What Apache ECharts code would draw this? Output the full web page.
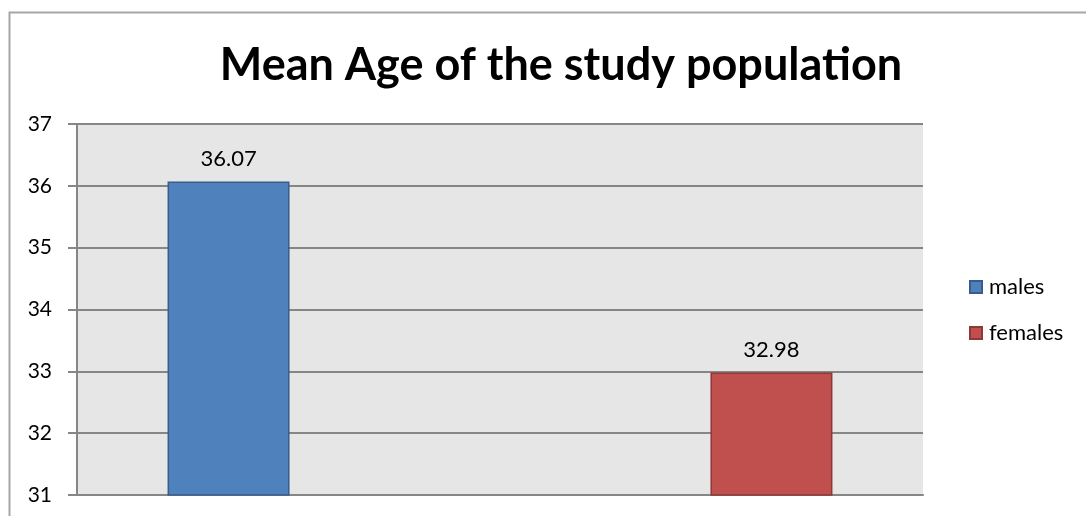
<!DOCTYPE html>
<html>
<head>
<meta charset="utf-8">
<style>
  html, body { margin: 0; padding: 0; background: #ffffff; }
  #chart { width: 1086px; height: 516px; }
</style>
<script src="https://cdn.jsdelivr.net/npm/echarts@6/dist/echarts.min.js"></script>
</head>
<body>
<div id="chart"></div>
<script>
// Mean age by sex
const categories = ['Mean Age'];
const seriesNames = ['males', 'females'];
const malesValues = [36.07];
const femalesValues = [32.98];
const yTicks = [31, 32, 33, 34, 35, 36, 37];

const FONT = 'Lato, "Open Sans", sans-serif';

const chart = echarts.init(document.getElementById('chart'), null, { renderer: 'canvas' });

const valueLabel = {
  show: true, position: 'top', distance: 12,
  formatter: p => p.value.toFixed(2),
  fontFamily: FONT, fontSize: 22, color: '#000000'
};

chart.setOption({
  animation: false,
  backgroundColor: '#ffffff',
  title: {
    text: 'Mean Age of the study population',
    left: 556,
    top: 38,
    textAlign: 'center',
    textStyle: { fontFamily: FONT, fontWeight: 'bold', fontSize: 45, color: '#000000' }
  },
  graphic: [{
    type: 'rect',
    shape: { x: 9.5, y: 12.5, width: 1100, height: 520 },
    style: { fill: 'none', stroke: '#a6a6a6', lineWidth: 2 },
    silent: true,
    z: 100
  }],
  legend: {
    orient: 'vertical',
    left: 964,
    top: 271,
    itemWidth: 12,
    itemHeight: 12,
    itemGap: 24,
    icon: 'rect',
    textStyle: { fontFamily: FONT, fontSize: 22, color: '#000000', padding: [0, 0, 0, 2] },
    data: seriesNames
  },
  grid: {
    left: 77, right: 163, top: 124, bottom: 21,
    show: true,
    backgroundColor: '#e6e6e6',
    borderWidth: 0
  },
  xAxis: {
    type: 'category',
    data: categories,
    axisLine: { show: true, lineStyle: { color: '#868686', width: 2 } },
    axisTick: { show: false },
    axisLabel: { show: false }
  },
  yAxis: {
    type: 'value',
    min: yTicks[0],
    max: yTicks[yTicks.length - 1],
    interval: 1,
    axisLine: { show: true, lineStyle: { color: '#868686', width: 2 } },
    axisTick: { show: true, length: 9, lineStyle: { color: '#868686', width: 2 } },
    axisLabel: { fontFamily: FONT, fontSize: 21, color: '#000000', margin: 25 },
    splitLine: { show: true, lineStyle: { color: '#868686', width: 2 } }
  },
  series: [
    {
      name: seriesNames[0],
      type: 'bar',
      data: malesValues,
      barWidth: 122,
      barGap: '345%',
      itemStyle: { color: '#4f81bd', borderColor: '#385d8a', borderWidth: 1.5 },
      label: valueLabel
    },
    {
      name: seriesNames[1],
      type: 'bar',
      data: femalesValues,
      barWidth: 122,
      itemStyle: { color: '#c0504d', borderColor: '#8c3836', borderWidth: 1.5 },
      label: valueLabel
    }
  ]
});
</script>
</body>
</html>
